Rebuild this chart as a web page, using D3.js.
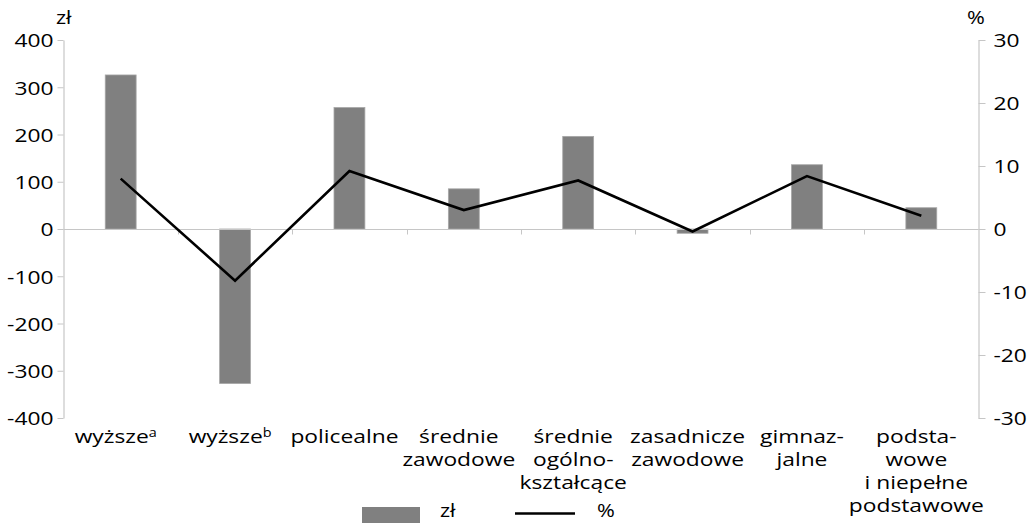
<!DOCTYPE html>
<meta charset="utf-8">
<script src="https://cdn.jsdelivr.net/npm/d3@7"></script>
<style>
  body { margin: 0; background: #fff; }
  text { font-family: "Open Sans", sans-serif; fill: #000; }
</style>
<body>
<div id="vis"></div>
<script>
// categories, split into the label lines shown under the axis
const categories = ["wyzsze_a", "wyzsze_b", "policealne", "srednie_zaw", "srednie_ogol", "zasadnicze", "gimnazjalne", "podstawowe"]
const labelLines = [
  ["wyższe"], ["wyższe"], ["policealne"], ["średnie", "zawodowe"],
  ["średnie", "ogólno-", "kształcące"], ["zasadnicze", "zawodowe"],
  ["gimnaz-", "jalne"], ["podsta-", "wowe", "i niepełne", "podstawowe"]
]
const labelSup = ["a", "b", "", "", "", "", "", ""]

// series
const zl = [326, -327, 257, 85, 196, -9, 136, 45]
const pct = [8.0, -8.2, 9.2, 3.0, 7.7, -0.4, 8.4, 2.1]

// tick labels
const leftTicks = [-400, -300, -200, -100, 0, 100, 200, 300, 400]
const rightTicks = [-30, -20, -10, 0, 10, 20, 30]

const W = 1035, H = 523
const sx = 1.2   // the reference text is drawn wider than normal
const axisColor = "#c6c6c6"

const svg = d3.select("#vis").append("svg")
  .attr("width", W).attr("height", H)

const x = d3.scaleBand()
  .domain(categories)
  .range([63.5, 978.5])

const yL = d3.scaleLinear().domain([-400, 400]).range([418, 40])
const yR = d3.scaleLinear().domain([-30, 30]).range([418, 40])

// bars
const barW = x.bandwidth() * 0.27
svg.append("g").selectAll("rect")
  .data(zl)
  .enter()
  .append("rect")
  .attr("x", (d, i) => x(categories[i]) + x.bandwidth() / 2 - barW / 2)
  .attr("y", d => yL(Math.max(0, d)))
  .attr("width", barW)
  .attr("height", d => Math.abs(yL(d) - yL(0)))
  .attr("fill", "#808080")
  .attr("stroke", "#a6a6a6")
  .attr("stroke-width", 0.8)

// zero line with category boundary ticks
const zeroY = Math.round(yL(0)) + 0.5
svg.append("line")
  .attr("x1", 63.5).attr("x2", 978.5)
  .attr("y1", zeroY).attr("y2", zeroY)
  .attr("stroke", axisColor).attr("stroke-width", 1.2)

svg.append("g").selectAll("line")
  .data(categories.slice(1))
  .enter()
  .append("line")
  .attr("x1", d => Math.round(x(d)) + 0.5)
  .attr("x2", d => Math.round(x(d)) + 0.5)
  .attr("y1", zeroY).attr("y2", zeroY + 5)
  .attr("stroke", axisColor)

// left axis
const gL = svg.append("g")
  .attr("transform", "translate(63.5,0)")
  .call(d3.axisLeft(yL).tickValues(leftTicks).tickFormat(d => String(d))
    .tickSize(6).tickPadding(0).tickSizeOuter(0))
gL.select(".domain").attr("stroke", axisColor).attr("stroke-width", 1.2)
gL.selectAll(".tick line").attr("stroke", axisColor)
gL.selectAll(".tick text")
  .attr("x", -10 / sx)
  .attr("dy", "0.36em")
  .attr("transform", `scale(${sx},1)`)
  .style("font-size", "19px")
  .style("font-family", "'Open Sans', sans-serif")
  .attr("fill", "#000")

// right axis
const gR = svg.append("g")
  .attr("transform", "translate(978.5,0)")
  .call(d3.axisRight(yR).tickValues(rightTicks).tickFormat(d => String(d))
    .tickSize(7).tickPadding(0).tickSizeOuter(0))
gR.select(".domain").attr("stroke", axisColor).attr("stroke-width", 1.2)
gR.selectAll(".tick line").attr("stroke", axisColor)
gR.selectAll(".tick text")
  .attr("x", 15 / sx)
  .attr("dy", "0.36em")
  .attr("transform", `scale(${sx},1)`)
  .style("font-size", "19px")
  .style("font-family", "'Open Sans', sans-serif")
  .attr("fill", "#000")

// unit labels
svg.append("text")
  .attr("transform", `translate(56,24) scale(${sx},1)`)
  .style("font-size", "18px")
  .text("zł")
svg.append("text")
  .attr("transform", `translate(967,24) scale(${sx},1)`)
  .style("font-size", "18px")
  .text("%")

// line series
const line = d3.line()
  .x((d, i) => x(categories[i]) + x.bandwidth() / 2)
  .y(d => yR(d))

svg.append("path")
  .datum(pct)
  .attr("d", line)
  .attr("fill", "none")
  .attr("stroke", "#000")
  .attr("stroke-width", 2.6)
  .attr("stroke-linejoin", "miter")

// category labels
const labels = svg.append("g").selectAll("text")
  .data(labelLines)
  .enter()
  .append("text")
  .attr("transform", (d, i) => `translate(${x(categories[i]) + x.bandwidth() / 2 - 5},0) scale(${sx},1)`)
  .attr("text-anchor", "middle")
  .style("font-size", "19px")

labels.each(function (lines, i) {
  const t = d3.select(this)
  lines.forEach((s, j) => {
    t.append("tspan").attr("x", 0).attr("y", 443 + j * 23).text(s)
    if (j === 0 && labelSup[i]) {
      t.append("tspan")
        .attr("dy", -6)
        .style("font-size", "12px")
        .text(labelSup[i])
    }
  })
})

// legend
svg.append("rect")
  .attr("x", 362).attr("y", 507)
  .attr("width", 58).attr("height", 18)
  .attr("fill", "#808080")
svg.append("text")
  .attr("transform", `translate(440,517) scale(${sx},1)`)
  .style("font-size", "18px")
  .text("zł")
svg.append("line")
  .attr("x1", 515).attr("x2", 575)
  .attr("y1", 513.5).attr("y2", 513.5)
  .attr("stroke", "#000").attr("stroke-width", 2.6)
svg.append("text")
  .attr("transform", `translate(597,517) scale(${sx},1)`)
  .style("font-size", "18px")
  .text("%")
</script>
</body>
